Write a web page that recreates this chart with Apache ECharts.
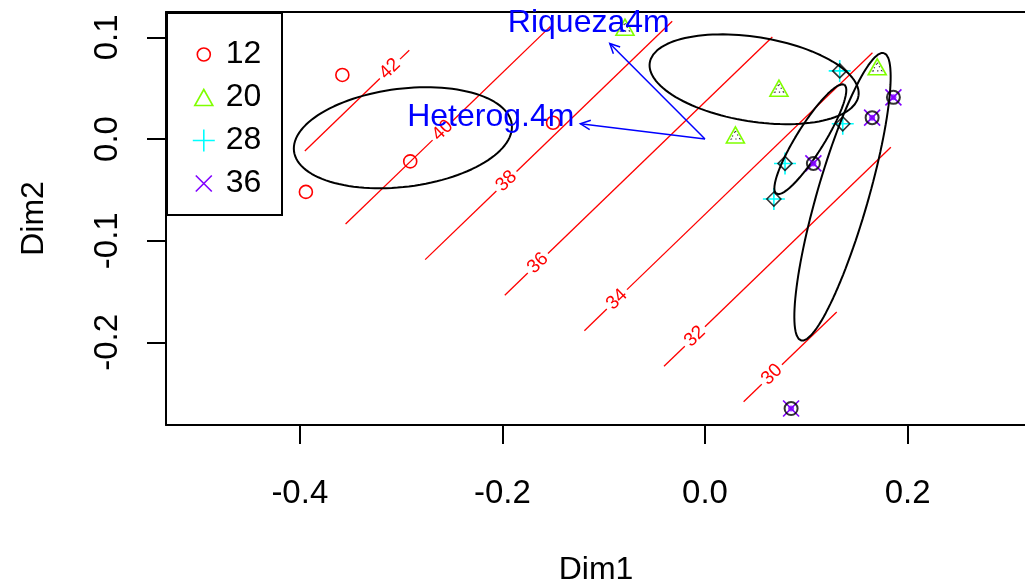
<!DOCTYPE html>
<html><head><meta charset="utf-8">
<script src="https://cdn.jsdelivr.net/npm/echarts@6/dist/echarts.min.js"></script>
<style>html,body{margin:0;padding:0;background:#fff}#c{width:1025px;height:584px}</style>
</head><body><div id="c"></div>
<script>
// ---------------- data ----------------
const groupNames = ['12', '20', '28', '36'];
const g12Dim1 = [-0.358, -0.394, -0.291, -0.150];
const g12Dim2 = [0.063, -0.052, -0.022, 0.016];
const g20Dim1 = [-0.079, 0.073, 0.030, 0.170];
const g20Dim2 = [0.110, 0.050, 0.004, 0.071];
const g28Dim1 = [0.133, 0.136, 0.079, 0.068];
const g28Dim2 = [0.067, 0.015, -0.024, -0.059];
const g36Dim1 = [0.107, 0.165, 0.186, 0.085];
const g36Dim2 = [-0.024, 0.021, 0.041, -0.265];
const xTickValues = [-0.4, -0.2, 0.0, 0.2];
const yTickValues = [-0.2, -0.1, 0.0, 0.1];
const contourLevels = [30, 32, 34, 36, 38, 40, 42];
const surfaceCoef = [35.34, -17.4, 18.1];   // intercept, Dim1, Dim2 (fitted surface)
const vectorNames = ['Riqueza4m', 'Heterog.4m'];
const vectorDim1 = [-0.094, -0.123];
const vectorDim2 = [0.094, 0.015];

// ---------------- styles / layout ----------------
const FONT = "'Liberation Sans', Arial, sans-serif";
const colors = ['#FF0000', '#80FF00', '#00FFFF', '#8000FF'];
const symbols = [
  'circle', 'triangle',
  'path://M0,5L10,5M5,0L5,10',
  'path://M0,0L10,10M10,0L0,10'
];
const symbolSizes = [13, [18, 16], 22, 16];
const legendIcons = [
  'path://M0,0M22,22M17.5,11A6.5,6.5,0,1,1,4.5,11A6.5,6.5,0,1,1,17.5,11Z',
  'path://M0,0M22,22M11,3L20,19L2,19Z',
  'path://M0,0M22,22M0,11L22,11M11,0L11,22',
  'path://M0,0M22,22M3,3L19,19M19,3L3,19'
];
const contourLabelDim1 = {42: -0.311, 40: -0.259, 38: -0.196, 36: -0.165, 34: -0.087, 32: -0.010, 30: 0.066};
const vectorLabelOffset = [[-21, -20, 'center'], [-6, -7, 'right']];
const hullPad = 0.013;

const groupsX = [g12Dim1, g20Dim1, g28Dim1, g36Dim1];
const groupsY = [g12Dim2, g20Dim2, g28Dim2, g36Dim2];

function pairs(xs, ys) { return xs.map((x, i) => [x, ys[i]]); }

// convex hull of all sites (surface is shown only around it)
function convexHull(pts) {
  const p = pts.slice().sort((a, b) => a[0] - b[0] || a[1] - b[1]);
  const cr = (o, a, b) => (a[0] - o[0]) * (b[1] - o[1]) - (a[1] - o[1]) * (b[0] - o[0]);
  const lo = [], up = [];
  for (const q of p) { while (lo.length >= 2 && cr(lo[lo.length - 2], lo[lo.length - 1], q) <= 0) lo.pop(); lo.push(q); }
  for (let i = p.length - 1; i >= 0; i--) { const q = p[i]; while (up.length >= 2 && cr(up[up.length - 2], up[up.length - 1], q) <= 0) up.pop(); up.push(q); }
  lo.pop(); up.pop();
  return lo.concat(up);
}
// offset a CCW convex polygon outward by d
function offsetPoly(P, d) {
  const n = P.length, lines = [];
  for (let i = 0; i < n; i++) {
    const a = P[i], b = P[(i + 1) % n];
    const dx = b[0] - a[0], dy = b[1] - a[1], L = Math.hypot(dx, dy);
    const nx = dy / L, ny = -dx / L;
    lines.push([[a[0] + nx * d, a[1] + ny * d], [dx, dy]]);
  }
  const out = [];
  for (let i = 0; i < n; i++) {
    const l1 = lines[(i - 1 + n) % n], l2 = lines[i];
    const [p, r] = l1, [q, s] = l2;
    const den = r[0] * s[1] - r[1] * s[0];
    const t = ((q[0] - p[0]) * s[1] - (q[1] - p[1]) * s[0]) / den;
    out.push([p[0] + t * r[0], p[1] + t * r[1]]);
  }
  return out;
}
const allPts = [];
groupsX.forEach((xs, g) => xs.forEach((x, i) => allPts.push([x, groupsY[g][i]])));
const hull = offsetPoly(convexHull(allPts), hullPad);

function surf(x, y) { return surfaceCoef[0] + surfaceCoef[1] * x + surfaceCoef[2] * y; }
function clipLevel(v) {
  const out = [];
  for (let i = 0; i < hull.length; i++) {
    const a = hull[i], b = hull[(i + 1) % hull.length];
    const fa = surf(a[0], a[1]) - v, fb = surf(b[0], b[1]) - v;
    if ((fa < 0) !== (fb < 0)) {
      const t = fa / (fa - fb);
      out.push([a[0] + t * (b[0] - a[0]), a[1] + t * (b[1] - a[1])]);
    }
  }
  out.sort((a, b) => a[0] - b[0]);
  return out;
}

// 1-sd ellipse of each group (covariance based)
function sdEllipse(xs, ys, n) {
  const m = xs.length;
  const mx = xs.reduce((s, v) => s + v, 0) / m, my = ys.reduce((s, v) => s + v, 0) / m;
  let sxx = 0, syy = 0, sxy = 0;
  for (let i = 0; i < m; i++) { const dx = xs[i] - mx, dy = ys[i] - my; sxx += dx * dx; syy += dy * dy; sxy += dx * dy; }
  sxx /= (m - 1); syy /= (m - 1); sxy /= (m - 1);
  const tr = (sxx + syy) / 2, d = Math.sqrt(((sxx - syy) / 2) ** 2 + sxy * sxy);
  const a = Math.sqrt(tr + d), b = Math.sqrt(Math.max(tr - d, 0));
  const th = 0.5 * Math.atan2(2 * sxy, sxx - syy);
  const pts = [];
  for (let k = 0; k <= n; k++) {
    const t = 2 * Math.PI * k / n;
    pts.push([mx + a * Math.cos(t) * Math.cos(th) - b * Math.sin(t) * Math.sin(th),
              my + a * Math.cos(t) * Math.sin(th) + b * Math.sin(t) * Math.cos(th)]);
  }
  return pts;
}

const series = [];
// site points
groupNames.forEach((name, g) => {
  series.push({
    name: name, type: 'scatter', z: 2,
    symbol: symbols[g], symbolSize: symbolSizes[g],
    itemStyle: { color: 'rgba(0,0,0,0)', borderColor: colors[g], borderWidth: 1.6, opacity: 1 },
    emphasis: { disabled: true },
    data: pairs(groupsX[g], groupsY[g])
  });
});
// black overlay marks seen on sites
series.push({ name: 'm20', type: 'scatter', z: 5, symbol: 'triangle', symbolSize: [9, 8],
  itemStyle: { color: 'rgba(0,0,0,0)', borderColor: '#000', borderWidth: 1.2, borderType: [1.2, 3] },
  data: pairs(g20Dim1, g20Dim2), silent: true });
series.push({ name: 'm28', type: 'scatter', z: 5, symbol: 'diamond', symbolSize: 14,
  itemStyle: { color: 'rgba(0,0,0,0)', borderColor: '#000', borderWidth: 1.6 },
  data: pairs(g28Dim1, g28Dim2), silent: true });
series.push({ name: 'm36', type: 'scatter', z: 5, symbol: 'circle', symbolSize: 13,
  itemStyle: { color: 'rgba(0,0,0,0)', borderColor: '#000', borderWidth: 2 },
  data: pairs(g36Dim1, g36Dim2), silent: true });
series.push({ name: 'm36c', type: 'scatter', z: 5, symbol: 'circle', symbolSize: 6,
  itemStyle: { color: '#8000FF' },
  data: pairs(g36Dim1, g36Dim2), silent: true });

// ellipses
groupNames.forEach((name, g) => {
  series.push({
    name: 'ell' + name, type: 'line', z: 4, silent: true, showSymbol: false, symbol: 'none',
    lineStyle: { color: '#000', width: 2 },
    data: sdEllipse(groupsX[g], groupsY[g], 120)
  });
});

// contour lines of fitted surface
series.push({
  name: 'surface', type: 'custom', z: 3, silent: true,
  data: contourLevels.map(v => {
    const lx = contourLabelDim1[v];
    return [lx, (v - surfaceCoef[0] - surfaceCoef[1] * lx) / surfaceCoef[2], v];
  }),
  renderItem: function (params, api) {
    const v = api.value(2);
    const seg = clipLevel(v);
    if (seg.length < 2) return;
    const a = api.coord(seg[0]), b = api.coord(seg[1]);
    const l = api.coord([api.value(0), api.value(1)]);
    const len = Math.hypot(b[0] - a[0], b[1] - a[1]);
    const u = [(b[0] - a[0]) / len, (b[1] - a[1]) / len];
    const gap = 14;
    const st = { stroke: '#FF0000', lineWidth: 1.3, fill: null };
    const ch = [];
    ch.push({ type: 'polyline', shape: { points: [a, [l[0] - u[0] * gap, l[1] - u[1] * gap]] }, style: st });
    ch.push({ type: 'polyline', shape: { points: [[l[0] + u[0] * gap, l[1] + u[1] * gap], b] }, style: st });
    ch.push({ type: 'text', x: l[0], y: l[1], rotation: -Math.atan2(u[1], u[0]),
      style: { text: String(v), fill: '#FF0000', font: '19px ' + FONT, align: 'center', verticalAlign: 'middle' } });
    return { type: 'group', children: ch };
  }
});

// fitted vectors
series.push({
  name: 'vectors', type: 'custom', z: 6, silent: true,
  data: vectorDim1.map((x, i) => [x, vectorDim2[i]]),
  renderItem: function (params, api) {
    const i = params.dataIndex;
    const o = api.coord([0, 0]);
    const t = api.coord([api.value(0), api.value(1)]);
    const ang = Math.atan2(t[1] - o[1], t[0] - o[0]);
    const L = 11, phi = Math.PI / 7;
    const p1 = [t[0] - L * Math.cos(ang - phi), t[1] - L * Math.sin(ang - phi)];
    const p2 = [t[0] - L * Math.cos(ang + phi), t[1] - L * Math.sin(ang + phi)];
    const st = { stroke: '#0000FF', lineWidth: 1.5, fill: null };
    const off = vectorLabelOffset[i];
    return { type: 'group', children: [
      { type: 'polyline', shape: { points: [o, t] }, style: st },
      { type: 'polyline', shape: { points: [p1, t, p2] }, style: st },
      { type: 'text', x: t[0] + off[0], y: t[1] + off[1],
        style: { text: vectorNames[i], fill: '#0000FF', font: '32px ' + FONT, align: off[2], verticalAlign: 'middle' } }
    ] };
  }
});

const axisLineStyle = { color: '#000', width: 2 };
const chart = echarts.init(document.getElementById('c'), null, { renderer: 'canvas' });
chart.setOption({
  animation: false,
  backgroundColor: '#fff',
  grid: { left: 166, right: -1, top: 12, bottom: 159, containLabel: false, outerBoundsMode: 'none', show: false },
  xAxis: [{
    type: 'value', min: -0.5321, max: 0.3169, position: 'bottom',
    name: 'Dim1', nameLocation: 'middle', nameGap: 129,
    nameTextStyle: { fontSize: 32, fontFamily: FONT, color: '#000' },
    axisLine: { show: true, onZero: false, lineStyle: axisLineStyle },
    axisTick: { show: true, inside: false, length: 19, customValues: xTickValues, lineStyle: axisLineStyle },
    axisLabel: { customValues: xTickValues, formatter: v => v.toFixed(1), fontSize: 33, fontFamily: FONT, color: '#000', margin: 52 },
    splitLine: { show: false }
  }, {
    type: 'value', min: -0.5321, max: 0.3169, position: 'top',
    axisLine: { show: true, onZero: false, lineStyle: axisLineStyle },
    axisTick: { show: false }, axisLabel: { show: false }, splitLine: { show: false }
  }],
  yAxis: {
    type: 'value', min: -0.2812, max: 0.1249, position: 'left',
    name: 'Dim2', nameLocation: 'middle', nameGap: 116, nameRotate: 90,
    nameTextStyle: { fontSize: 32, fontFamily: FONT, color: '#000' },
    axisLine: { show: true, onZero: false, lineStyle: axisLineStyle },
    axisTick: { show: true, inside: false, length: 19, customValues: yTickValues, lineStyle: axisLineStyle },
    axisLabel: { customValues: yTickValues, formatter: v => v.toFixed(1), fontSize: 33, fontFamily: FONT, color: '#000', margin: 42, rotate: 90 },
    splitLine: { show: false }
  },
  legend: {
    orient: 'vertical', left: 187, top: 32, itemWidth: 22, itemHeight: 22, itemGap: 8,
    selectedMode: false, z: 100,
    textStyle: { fontSize: 32, fontFamily: FONT, color: '#000', lineHeight: 35, padding: [0, 0, 0, 6] },
    data: groupNames.map((n, g) => ({ name: n, icon: legendIcons[g],
      itemStyle: { color: 'rgba(0,0,0,0)', borderColor: colors[g], borderWidth: 1.6 } }))
  },
  graphic: [{
    type: 'rect', left: 166, top: 12, z: 1, silent: true,
    shape: { width: 115, height: 202 },
    style: { fill: '#fff', stroke: '#000', lineWidth: 2 }
  }],
  series: series
});
</script></body></html>
